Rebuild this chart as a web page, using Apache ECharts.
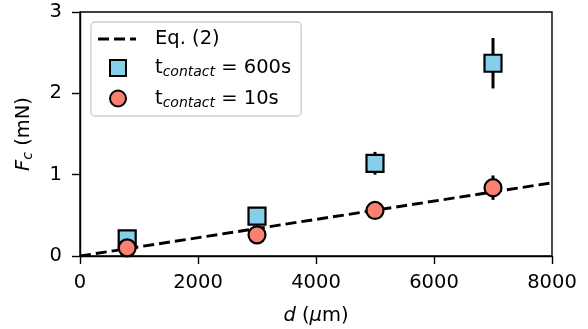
<!DOCTYPE html>
<html>
<head>
<meta charset="utf-8">
<script src="https://cdn.jsdelivr.net/npm/echarts@6/dist/echarts.min.js"></script>
<style>
  html, body { margin: 0; padding: 0; background: #fff; }
  #chart { width: 588px; height: 329px; }
</style>
</head>
<body>
<div id="chart"></div>
<script>
// Separation distance d (µm) of the measured samples
const distances = [800, 3000, 5000, 7000];
// Critical force F_c (mN) after 600 s contact, with standard error
const force600 = [0.21, 0.49, 1.14, 2.37];
const err600 = [0.05, 0.06, 0.14, 0.31];
// Critical force F_c (mN) after 10 s contact, with standard error
const force10 = [0.10, 0.26, 0.56, 0.84];
const err10 = [0.03, 0.05, 0.10, 0.15];
// Model line, Eq. (2)
const modelD = [0, 8000];
const modelF = [0, 0.9];
const xTicks = [0, 2000, 4000, 6000, 8000];
const yTicks = [0, 1, 2, 3];

const FONT = 'DejaVu Sans';
const FS = 19.5;
const SUB = 14;
const chart = echarts.init(document.getElementById('chart'), null, { renderer: 'canvas' });

function pairs(xs, ys) { return xs.map((x, i) => [x, ys[i]]); }
function errData(xs, ys, es) { return xs.map((x, i) => [x, ys[i] - es[i], ys[i] + es[i]]); }

function errorBars(name, data, z) {
  return {
    name: name,
    type: 'custom',
    z: z,
    silent: true,
    data: data,
    encode: { x: 0, y: [1, 2] },
    renderItem: function (params, api) {
      const lo = api.coord([api.value(0), api.value(1)]);
      const hi = api.coord([api.value(0), api.value(2)]);
      return {
        type: 'line',
        shape: { x1: lo[0], y1: lo[1], x2: hi[0], y2: hi[1] },
        style: { stroke: '#000', lineWidth: 3 }
      };
    }
  };
}

const labelRich = {
  base: { fontFamily: FONT, fontSize: FS, color: '#000' },
  sub: { fontFamily: FONT, fontSize: SUB, fontStyle: 'italic', color: '#000', padding: [9, 0, 0, 0] }
};

// legend glyphs: dashed stroke on a 40x16 box, square marker on a 16x16 box
const dashIcon = 'path://M0,0h0.01v0.01h-0.01z M0,6.5h11v3h-11z M16,6.5h11v3h-11z M32,6.5h6v3h-6z M39.99,15.99h0.01v0.01h-0.01z';
const squareIcon = 'path://M0,0h16v16h-16z';

chart.setOption({
  animation: false,
  grid: {
    left: 80, right: 36, top: 12, bottom: 73,
    outerBoundsMode: 'none',
    containLabel: false,
    show: true, borderColor: '#000', borderWidth: 1.4, backgroundColor: 'transparent'
  },
  legend: {
    orient: 'vertical',
    left: 91, top: 22,
    padding: [7, 10, 6, 7],
    itemGap: 9,
    itemWidth: 40,
    itemHeight: 16,
    backgroundColor: 'rgba(255,255,255,0.8)',
    borderColor: '#cccccc',
    borderWidth: 1.3,
    borderRadius: 4,
    data: [
      { name: 'eq2', icon: dashIcon, itemStyle: { color: '#000', borderWidth: 0 } },
      { name: 't600', icon: squareIcon },
      { name: 't10' }
    ],
    formatter: function (name) {
      if (name === 'eq2') return '{base|Eq. (2)}';
      if (name === 't600') return '{base|t}{sub|contact}{base| = 600s}';
      return '{base|t}{sub|contact}{base| = 10s}';
    },
    textStyle: { rich: labelRich, padding: [0, 0, 0, 12] }
  },
  xAxis: {
    type: 'value',
    min: 0, max: 8000, interval: 2000,
    name: '{it|d} ({it|µ}m)',
    nameLocation: 'middle',
    nameGap: 50,
    nameTextStyle: {
      fontFamily: FONT, fontSize: FS, color: '#000',
      rich: {
        it: { fontFamily: FONT, fontSize: FS, fontStyle: 'italic', color: '#000' }
      }
    },
    axisLine: { show: true, lineStyle: { color: '#000', width: 1.4 } },
    axisTick: { show: true, length: 8, lineStyle: { color: '#000', width: 1.4 } },
    axisLabel: { fontFamily: FONT, fontSize: FS, color: '#000', margin: 17,
      formatter: function (v) { return xTicks.includes(v) ? String(v) : ''; } },
    splitLine: { show: false }
  },
  yAxis: {
    type: 'value',
    min: 0, max: 3, interval: 1,
    name: '{it|F}{sub|c} (mN)',
    nameLocation: 'middle',
    nameGap: 45,
    nameTextStyle: {
      fontFamily: FONT, fontSize: FS, color: '#000',
      rich: {
        it: { fontFamily: FONT, fontSize: FS, fontStyle: 'italic', color: '#000' },
        sub: { fontFamily: FONT, fontSize: SUB, fontStyle: 'italic', color: '#000', padding: [9, 0, 0, 0] }
      }
    },
    axisLine: { show: true, lineStyle: { color: '#000', width: 1.4 } },
    axisTick: { show: true, length: 8, lineStyle: { color: '#000', width: 1.4 } },
    axisLabel: { fontFamily: FONT, fontSize: FS, color: '#000', margin: 18,
      formatter: function (v) { return yTicks.includes(v) ? String(v) : ''; } },
    splitLine: { show: false }
  },
  series: [
    {
      name: 'eq2',
      type: 'line',
      z: 2,
      data: pairs(modelD, modelF),
      showSymbol: false,
      symbol: 'none',
      itemStyle: { color: '#000' },
      lineStyle: { color: '#000', width: 2.9, type: [11, 5] }
    },
    errorBars('err600', errData(distances, force600, err600), 3),
    {
      name: 't600',
      type: 'scatter',
      z: 4,
      data: pairs(distances, force600),
      symbol: 'rect',
      symbolSize: 17,
      itemStyle: { color: '#87ceeb', borderColor: '#000', borderWidth: 2.2, opacity: 1 }
    },
    errorBars('err10', errData(distances, force10, err10), 5),
    {
      name: 't10',
      type: 'scatter',
      z: 6,
      data: pairs(distances, force10),
      symbol: 'circle',
      symbolSize: 17,
      itemStyle: { color: '#fa8072', borderColor: '#000', borderWidth: 2.2, opacity: 1 }
    }
  ]
});
</script>
</body>
</html>
